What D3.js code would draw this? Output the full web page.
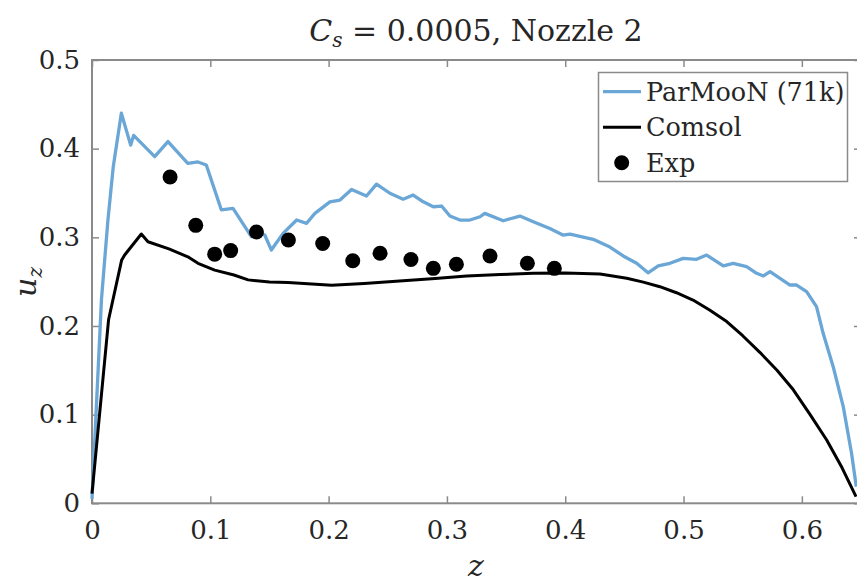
<!DOCTYPE html>
<html><head><meta charset="utf-8">
<script src="https://cdn.jsdelivr.net/npm/d3@7"></script>
<style>body{margin:0;background:#fff}svg{display:block}text{font-family:"DejaVu Serif","Liberation Serif",serif;fill:#262626}</style>
</head><body><svg id="c" width="857" height="584"></svg>
<script>
// ---- data ----
const xTicks = [0, 0.1, 0.2, 0.3, 0.4, 0.5, 0.6];
const yTicks = [0, 0.1, 0.2, 0.3, 0.4, 0.5];
const seriesNames = ["ParMooN (71k)", "Comsol", "Exp"];

const parmoonZ = [0, 0.008, 0.0135, 0.018, 0.0248, 0.0327, 0.0352, 0.053, 0.0642, 0.081, 0.0896, 0.0966, 0.1093, 0.1192, 0.1347, 0.139, 0.146, 0.1516, 0.1615, 0.173, 0.1814, 0.1884, 0.2011, 0.2096, 0.2194, 0.232, 0.2405, 0.2518, 0.263, 0.2715, 0.28, 0.2885, 0.2955, 0.3025, 0.311, 0.3194, 0.328, 0.332, 0.3476, 0.3617, 0.373, 0.387, 0.398, 0.404, 0.4236, 0.4378, 0.449, 0.4604, 0.470, 0.4786, 0.4885, 0.4997, 0.511, 0.5195, 0.5336, 0.542, 0.5533, 0.5618, 0.5675, 0.5731, 0.59, 0.5956, 0.604, 0.6124, 0.618, 0.6265, 0.635, 0.642, 0.646];
const parmoonU = [0.005, 0.23, 0.32, 0.38, 0.44, 0.404, 0.415, 0.391, 0.408, 0.3835, 0.385, 0.3816, 0.331, 0.3327, 0.3007, 0.306, 0.3026, 0.2857, 0.3045, 0.3195, 0.3158, 0.327, 0.340, 0.342, 0.354, 0.3466, 0.360, 0.3497, 0.343, 0.3477, 0.340, 0.3345, 0.3353, 0.324, 0.3195, 0.3195, 0.3232, 0.327, 0.3187, 0.324, 0.3176, 0.310, 0.3026, 0.3037, 0.2977, 0.289, 0.279, 0.2707, 0.260, 0.2677, 0.2707, 0.2763, 0.2752, 0.280, 0.2677, 0.2707, 0.2669, 0.2594, 0.2564, 0.2612, 0.2462, 0.2462, 0.2387, 0.2218, 0.1917, 0.154, 0.109, 0.0564, 0.0187];

const comsolZ = [0, 0.014, 0.025, 0.0276, 0.0417, 0.0473, 0.065, 0.081, 0.0896, 0.1037, 0.12, 0.132, 0.15, 0.1657, 0.2026, 0.23, 0.26, 0.29, 0.3167, 0.345, 0.373, 0.40, 0.4294, 0.452, 0.466, 0.480, 0.494, 0.508, 0.522, 0.5365, 0.55, 0.5647, 0.579, 0.5928, 0.607, 0.621, 0.634, 0.6458];
const comsolU = [0.011, 0.207, 0.274, 0.28, 0.3037, 0.295, 0.287, 0.278, 0.2707, 0.263, 0.2575, 0.252, 0.2495, 0.249, 0.246, 0.248, 0.2507, 0.2535, 0.2564, 0.258, 0.2594, 0.2598, 0.2586, 0.2538, 0.2495, 0.2443, 0.2375, 0.2293, 0.218, 0.205, 0.189, 0.17, 0.150, 0.128, 0.100, 0.0714, 0.04, 0.0075];

const expZ = [0.066, 0.0877, 0.1037, 0.1172, 0.139, 0.166, 0.195, 0.2204, 0.2435, 0.2696, 0.2885, 0.308, 0.3364, 0.368, 0.3908];
const expU = [0.368, 0.3135, 0.281, 0.285, 0.306, 0.297, 0.293, 0.2736, 0.282, 0.275, 0.265, 0.2696, 0.279, 0.2707, 0.265];

// ---- layout ----
const svg = d3.select("#c");
const L = 92, R = 861, T = 60, B = 503.3;
const x = d3.scaleLinear().domain([0, 0.65]).range([L, R]);
const y = d3.scaleLinear().domain([0, 0.5]).range([B, T]);
const axisColor = "#8a8a8a";
const blue = "#6aa6d6";
const fs = 26;
const FONT = '"DejaVu Serif","Liberation Serif",serif';

// frame
svg.append("rect").attr("x", L).attr("y", T).attr("width", R - L).attr("height", B - T)
  .attr("fill", "none").attr("stroke", axisColor).attr("stroke-width", 2);

// axes (ticks inward)
const gx = svg.append("g").attr("transform", `translate(0,${B})`)
  .call(d3.axisBottom(x).tickValues(xTicks).tickSize(-7).tickPadding(17).tickFormat(d => d3.format("")(d)));
const gxt = svg.append("g").attr("transform", `translate(0,${T})`)
  .call(d3.axisTop(x).tickValues(xTicks).tickSize(-7).tickFormat(""));
const gy = svg.append("g").attr("transform", `translate(${L},0)`)
  .call(d3.axisLeft(y).tickValues(yTicks).tickSize(-7).tickPadding(12).tickFormat(d => d3.format("")(d)));
const gyr = svg.append("g").attr("transform", `translate(${R},0)`)
  .call(d3.axisRight(y).tickValues(yTicks).tickSize(-7).tickFormat(""));
[gx, gxt, gy, gyr].forEach(g => {
  g.attr("font-family", null);
  g.select(".domain").remove();
  g.selectAll(".tick line").attr("stroke", axisColor).attr("stroke-width", 1.5);
  g.selectAll("text").attr("font-size", fs).attr("font-family", FONT).attr("fill", "#333");
});
gx.selectAll("text").attr("dy", "0.71em");

// lines
const line = d3.line().x(d => x(d[0])).y(d => y(d[1]));
svg.append("path").datum(parmoonZ.map((z, i) => [z, parmoonU[i]]))
  .attr("d", line).attr("fill", "none").attr("stroke", blue).attr("stroke-width", 3.3).attr("stroke-linejoin", "round");
svg.append("path").datum(comsolZ.map((z, i) => [z, comsolU[i]]))
  .attr("d", line).attr("fill", "none").attr("stroke", "#000").attr("stroke-width", 3).attr("stroke-linejoin", "round");
svg.append("g").selectAll("circle").data(expZ.map((z, i) => [z, expU[i]])).join("circle")
  .attr("cx", d => x(d[0])).attr("cy", d => y(d[1])).attr("r", 7.5).attr("fill", "#000");

// title
const title = svg.append("text").attr("x", 476).attr("y", 41).attr("text-anchor", "middle").attr("font-size", 30).attr("font-family", FONT);
title.append("tspan").attr("font-style", "italic").text("C");
title.append("tspan").attr("font-style", "italic").attr("font-size", 20).attr("dy", 6).text("s");
title.append("tspan").attr("dy", -6).text(" = 0.0005, Nozzle 2");

// axis labels
const yl = svg.append("text").attr("transform", "translate(36,282) rotate(-90)").attr("text-anchor", "middle").attr("font-size", 30).attr("font-family", FONT);
yl.append("tspan").attr("font-style", "italic").text("u");
yl.append("tspan").attr("font-style", "italic").attr("font-size", 20).attr("dy", 6).text("z");
svg.append("text").attr("x", 476).attr("y", 576).attr("text-anchor", "middle").attr("font-size", 30).attr("font-family", FONT)
  .attr("font-style", "italic").text("z");

// legend
const lg = svg.append("g");
lg.append("rect").attr("x", 598.5).attr("y", 72.5).attr("width", 249).attr("height", 109)
  .attr("fill", "#fff").attr("stroke", axisColor).attr("stroke-width", 1.5);
const rows = [91.7, 127.3, 162.7];
lg.append("line").attr("x1", 603).attr("x2", 641).attr("y1", rows[0]).attr("y2", rows[0]).attr("stroke", blue).attr("stroke-width", 3.3);
lg.append("line").attr("x1", 603).attr("x2", 641).attr("y1", rows[1]).attr("y2", rows[1]).attr("stroke", "#000").attr("stroke-width", 3);
lg.append("circle").attr("cx", 621.7).attr("cy", rows[2]).attr("r", 7.5).attr("fill", "#000");
seriesNames.forEach((n, i) => {
  lg.append("text").attr("x", 646).attr("y", rows[i]).attr("dy", "0.35em").attr("font-size", 25.5).attr("font-family", FONT).text(n);
});
</script></body></html>
